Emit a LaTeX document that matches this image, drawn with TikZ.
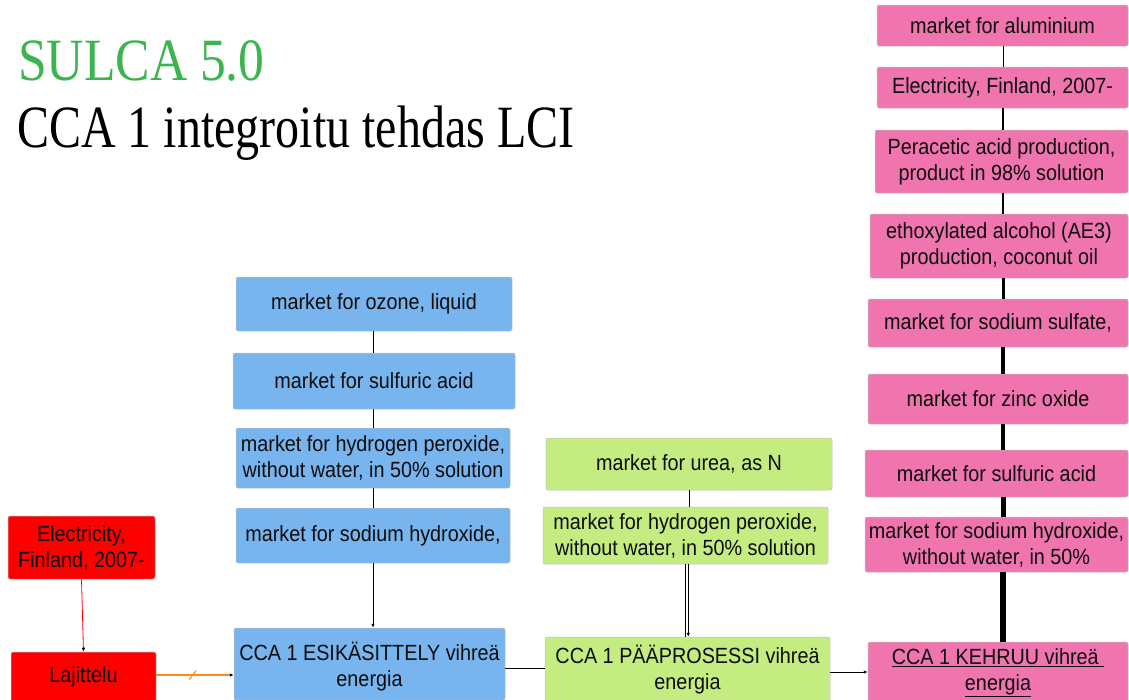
\documentclass[tikz,border=0pt]{standalone}
\usepackage{fontspec}
\setmainfont{Liberation Sans}[FakeStretch=0.9]
\newfontfamily\headA{Liberation Serif}[FakeStretch=0.86]
\newfontfamily\headB{Liberation Serif}[FakeStretch=0.8]
\usetikzlibrary{arrows.meta}

\definecolor{boxblue}{RGB}{120,180,238}
\definecolor{boxpink}{RGB}{240,117,174}
\definecolor{boxgreen}{RGB}{196,236,128}
\definecolor{boxred}{RGB}{255,0,0}
\definecolor{headgreen}{RGB}{60,180,80}
\definecolor{flow}{RGB}{255,140,20}

\tikzset{
  proc/.style={rectangle, rounded corners=2pt, draw=black!25, line width=0.5pt,
    inner sep=0pt, align=center, text=black!95, font=\fontsize{22}{26}\selectfont},
  blueproc/.style={proc, fill=boxblue},
  pinkproc/.style={proc, fill=boxpink},
  greenproc/.style={proc, fill=boxgreen},
  redproc/.style={proc, fill=boxred},
  link/.style={line width=0.8pt, draw=black},
  tip/.style={-{Latex[length=4pt,width=3.5pt]}},
}

\begin{document}
\begin{tikzpicture}[x=1pt, y=-1pt]
\useasboundingbox (0,0) rectangle (1129,699);

% heading
\node[anchor=base west, inner sep=0pt, text=headgreen, font=\headA\fontsize{60}{60}\selectfont] (head1) at (18,80) {SULCA 5.0};
\node[anchor=base west, inner sep=0pt, text=black, font=\headB\fontsize{60}{60}\selectfont] (head2) at (17,147) {CCA 1 integroitu tehdas LCI};

% pre-treatment chain (blue)
\node[blueproc, minimum width=276pt, minimum height=54pt] (bOzone) at (374,304) {market for ozone, liquid};
\node[blueproc, minimum width=282pt, minimum height=56pt] (bSulf) at (374,381) {market for sulfuric acid};
\node[blueproc, minimum width=274pt, minimum height=60pt] (bPerox) at (373,458) {market for hydrogen peroxide,\\without water, in 50\% solution};
\node[blueproc, minimum width=274pt, minimum height=55pt] (bNaOH) at (373,535.5) {market for sodium hydroxide,};
\node[blueproc, minimum width=271pt, minimum height=72pt, text depth=0pt] (bPre) at (369.5,664) {CCA 1 ESIKÄSITTELY vihreä\\energia};

% sorting (red)
\node[redproc, minimum width=147pt, minimum height=63pt] (rElec) at (81.5,547.5) {Electricity,\\Finland, 2007-};
\node[redproc, minimum width=145pt, minimum height=50pt] (rSort) at (83.5,677) {Lajittelu};

% main process (green)
\node[greenproc, minimum width=286pt, minimum height=52pt] (gUrea) at (689,464) {market for urea, as N};
\node[greenproc, minimum width=285pt, minimum height=57pt] (gPerox) at (685.5,535.5) {market for hydrogen peroxide,\\without water, in 50\% solution};
\node[greenproc, minimum width=285pt, minimum height=66pt] (gMain) at (687.5,670) {CCA 1 PÄÄPROSESSI vihreä\\energia};

% spinning chain (pink)
\node[pinkproc, minimum width=251pt, minimum height=41pt] (pAlu) at (1002.5,25.5) {market for aluminium};
\node[pinkproc, minimum width=251pt, minimum height=41pt] (pElec) at (1002.5,87.5) {Electricity, Finland, 2007-};
\node[pinkproc, minimum width=253pt, minimum height=63pt] (pPer) at (1001.5,161.5) {Peracetic acid production,\\product in 98\% solution};
\node[pinkproc, minimum width=258pt, minimum height=64pt] (pEth) at (999,246) {ethoxylated alcohol (AE3)\\production, coconut oil};
\node[pinkproc, minimum width=260pt, minimum height=48pt] (pSulfate) at (998,323) {market for sodium sulfate,};
\node[pinkproc, minimum width=260pt, minimum height=50pt] (pZinc) at (998,399) {market for zinc oxide};
\node[pinkproc, minimum width=263pt, minimum height=47pt] (pSulf) at (996.5,473.5) {market for sulfuric acid};
\node[pinkproc, minimum width=263pt, minimum height=55pt] (pNaOH) at (996.5,544.5) {market for sodium hydroxide,\\without water, in 50\%};
\node[pinkproc, minimum width=260pt, minimum height=61pt] (pSpin) at (998,672.5) {\underline{CCA 1 KEHRUU vihreä\ }\\\underline{energia}};

% blue chain connectors
\coordinate (bx) at (373,0);
\draw[link] (bx |- bOzone.south) -- (bx |- bSulf.north);
\draw[link] (bx |- bSulf.south) -- (bx |- bPerox.north);
\draw[link] (bx |- bPerox.south) -- (bx |- bNaOH.north);
\draw[link, tip] (bx |- bNaOH.south) -- (bx |- bPre.north);

% red chain connectors
\draw[line width=0.8pt, red, -{Latex[length=4pt,width=3.5pt,color=black]}] (rElec.south) -- (rSort.north);
\draw[line width=1.4pt, flow, -{Latex[length=4pt,width=3.5pt,color=black]}] (rSort.east |- 0,675) -- (bPre.west |- 0,675)
  coordinate[pos=0.47] (slash);
\draw[line width=1.1pt, flow] (slash) ++(-3.5,4.5) -- ++(7,-9);

% main line
\draw[link] (bPre.east |- 0,668) -- (gMain.west |- 0,668);
\draw[link, tip] (gMain.east |- 0,672) -- (pSpin.west |- 0,672);

% green chain connectors
\coordinate (gx) at (689,0);
\draw[link] (gx |- gUrea.south) -- (gx |- gPerox.north);
\coordinate (gy) at (687,0);
\draw[link] ([xshift=-1.3pt]gy |- gPerox.south) -- ([xshift=-1.3pt]gy |- gMain.north);
\draw[link, tip] ([xshift=1.3pt]gy |- gPerox.south) -- ([xshift=1.3pt]gy |- gMain.north);

% pink chain connectors, growing heavier downwards
\coordinate (px) at (1003,0);
\draw[black, line width=1pt] (px |- pAlu.south) -- (px |- pElec.north);
\draw[black, line width=1.8pt] (px |- pElec.south) -- (px |- pPer.north);
\draw[black, line width=2.5pt] (px |- pPer.south) -- (px |- pEth.north);
\draw[black, line width=3pt] (px |- pEth.south) -- (px |- pSulfate.north);
\draw[black, line width=4pt] (px |- pSulfate.south) -- (px |- pZinc.north);
\draw[black, line width=4.5pt] (px |- pZinc.south) -- (px |- pSulf.north);
\draw[black, line width=5pt] (px |- pSulf.south) -- (px |- pNaOH.north);
\draw[black, line width=6pt] (px |- pNaOH.south) -- (px |- pSpin.north);
\end{tikzpicture}
\end{document}
